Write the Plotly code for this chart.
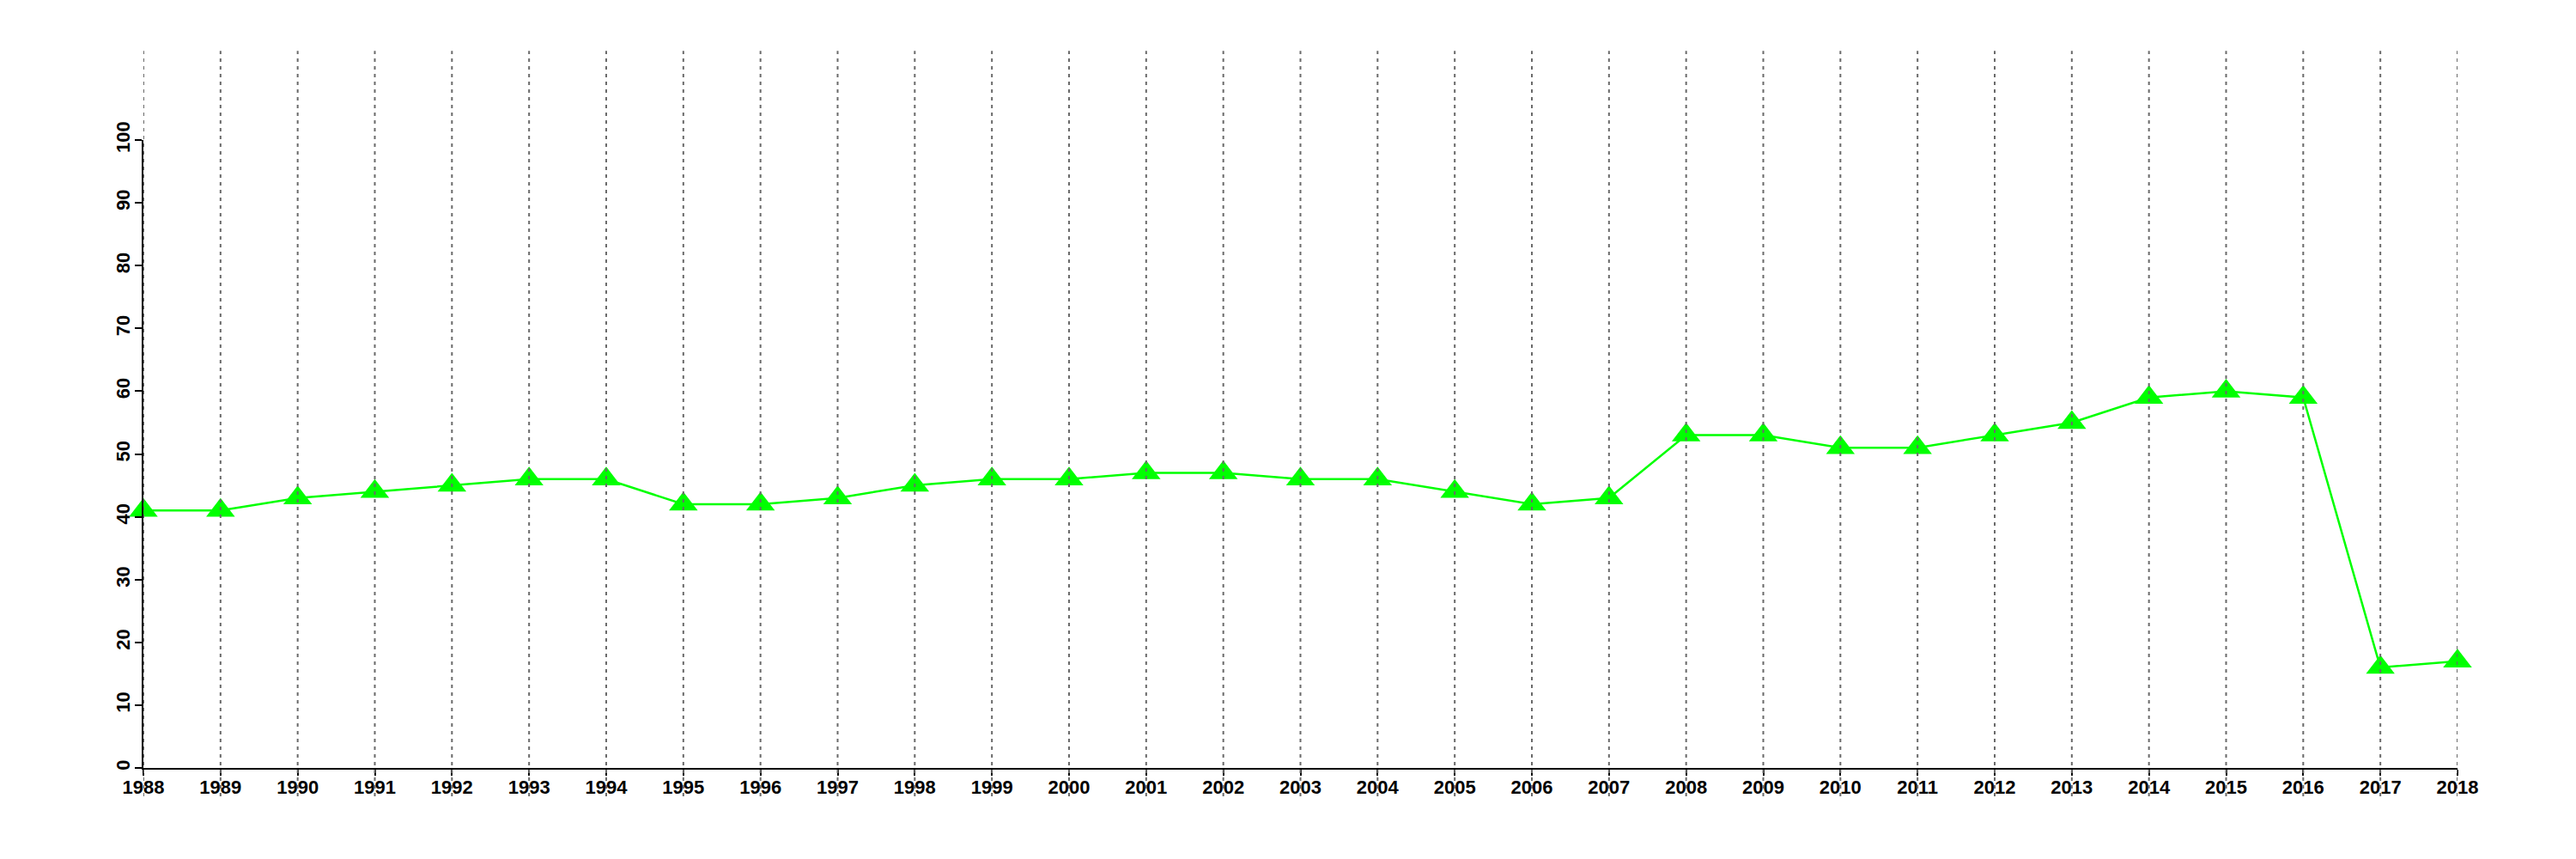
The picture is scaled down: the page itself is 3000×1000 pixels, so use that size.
import plotly.graph_objects as go

years = list(range(1988, 2019))
values = [41, 41, 43, 44, 45, 46, 46, 42, 42, 43, 45, 46, 46, 47, 47, 46, 46, 44, 42, 43,
          53, 53, 51, 51, 53, 55, 59, 60, 59, 16, 17]
y_ticks = list(range(0, 101, 10))

fig = go.Figure()
fig.add_trace(go.Scatter(
    x=years, y=values, mode="lines+markers",
    line=dict(color="#00ff00", width=2.5),
    marker=dict(symbol="triangle-up", size=29, color="#00ff00"),
    cliponaxis=False, showlegend=False,
))

shapes = [dict(type="line", xref="x", yref="paper", x0=yr, x1=yr, y0=-0.045, y1=1.142,
               line=dict(color="#6a6a6a", width=2, dash="4px,5px"), layer="above")
          for yr in years]

font = dict(family="Liberation Sans", size=22, color="black", weight="bold")
fig.update_layout(
    width=3000, height=1000, autosize=False,
    margin=dict(l=159, r=146, t=155, b=114),
    plot_bgcolor="white", paper_bgcolor="white",
    shapes=shapes,
    xaxis=dict(range=[1988, 2018], tickvals=years, ticktext=[str(y) for y in years],
               showgrid=False, zeroline=False, showline=True, linecolor="black", linewidth=2,
               ticks="outside", ticklen=7, tickwidth=2, tickcolor="black",
               ticklabelstandoff=-5, tickfont=font),
    yaxis=dict(range=[0, 100], tickvals=y_ticks, showgrid=False, zeroline=False,
               showline=True, linecolor="black", linewidth=2,
               ticks="outside", ticklen=8, tickwidth=2, tickcolor="black",
               ticklabelstandoff=-3, tickangle=-90, tickfont=font),
)
fig.write_html("out.html")
